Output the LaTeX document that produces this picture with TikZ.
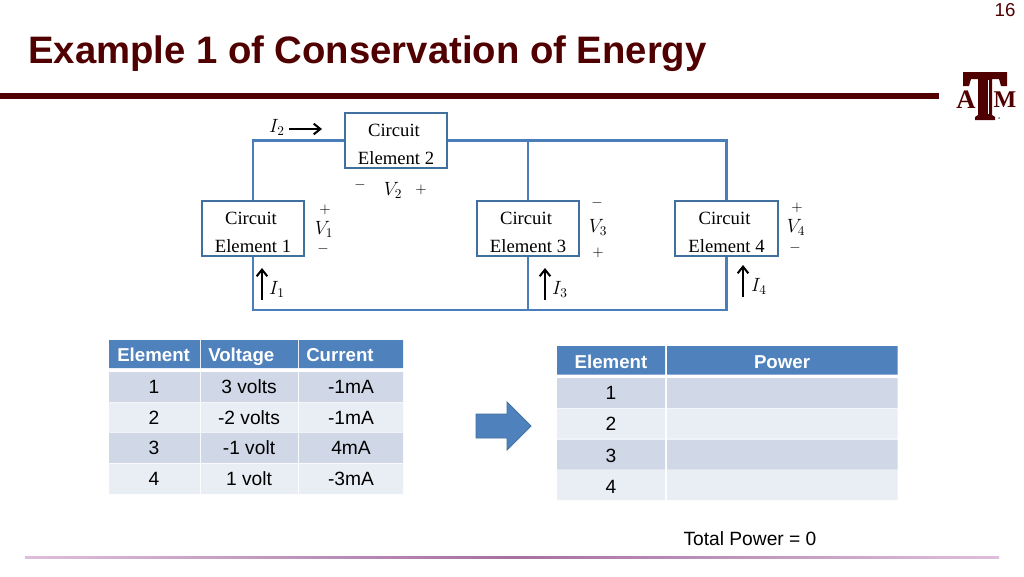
\documentclass[tikz,border=0pt]{standalone}
\usepackage{fontspec}
\setmainfont{Liberation Sans}
\newfontfamily\serifelem{Liberation Serif}
\usetikzlibrary{arrows.meta}
\definecolor{aggie}{HTML}{500000}
\definecolor{wire}{HTML}{4A7EBB}
\definecolor{boxedge}{HTML}{41709F}
\definecolor{headblue}{HTML}{4F81BD}
\definecolor{rowdark}{HTML}{D0D8E8}
\definecolor{rowlight}{HTML}{E9EDF4}
\definecolor{ruleedge}{HTML}{DDBFDD}
\definecolor{rulemid}{HTML}{A6709F}
\newcommand{\elemlabel}[1]{\rule{0pt}{14.5pt}Circuit\kern3pt\\Element #1}
\tikzset{
	element/.style={draw=boxedge,line width=1.7pt,minimum width=77pt,minimum height=41pt,inner sep=0pt,align=center,font=\fontsize{14}{21}\selectfont\serifelem,text=black},
	wireline/.style={draw=wire,line width=1.7pt},
	current/.style={-{Straight Barb[length=5pt,width=8pt]},black,line width=1.5pt},
	lab/.style={inner sep=0pt,font=\fontsize{14.4}{15}\selectfont},
	signlab/.style={inner sep=0pt,font=\fontsize{11}{11}\selectfont},
	cell/.style={inner sep=0pt,text height=10pt,text depth=0pt,font=\fontsize{14.4}{15}\selectfont,text=black},
	headcell/.style={inner sep=0pt,text height=10pt,text depth=0pt,font=\fontsize{14}{15}\selectfont\bfseries,text=white},
}
\begin{document}
\begin{tikzpicture}[x=0.75pt,y=-0.75pt]
	\useasboundingbox (0,0) rectangle (1024,576);
	\fill[white] (0,0) rectangle (1024,576);
	% title
	\node[anchor=west,inner sep=0pt,text=aggie,font=\fontsize{28.7}{32}\selectfont\bfseries] (title) at (28,54) {Example 1 of Conservation of Energy};
	\node[inner sep=0pt,text=aggie,font=\fontsize{14}{16}\selectfont] (pagenum) at (1005,10) {16};
	\fill[aggie] (0,93) rectangle (939,99);
	\shade[left color=ruleedge,right color=ruleedge,middle color=rulemid] (25,556) rectangle (999,558);
	% logo
	\fill[aggie] (963,72) -- (1007,72) -- (1007,86) -- (1001,86) -- (999,79) -- (992,79) -- (992,115) -- (995,117) -- (995,120) -- (975,120) -- (975,117) -- (978,115) -- (978,79) -- (971,79) -- (969,86) -- (963,86) -- cycle;
	\draw[white,line width=0.5pt] (988,80) -- (988,114);
	\fill[gray] (999,118) circle (1);
	\node[inner sep=0pt,text=aggie,font=\fontsize{20}{21}\selectfont\serifelem\bfseries] (logoa) at (966,100) {A};
	\node[inner sep=0pt,text=aggie,font=\fontsize{18}{21}\selectfont\serifelem\bfseries] (logom) at (1005,100) {M};
	% circuit
	\node[element] (elemtwo) at (396,140.5) {\elemlabel{2}};
	\node[element] (elemone) at (253,228.5) {\elemlabel{1}};
	\node[element] (elemthree) at (528,228.5) {\elemlabel{3}};
	\node[element] (elemfour) at (726.5,228.5) {\elemlabel{4}};
	\coordinate (bottomleft) at (253,310);
	\coordinate (bottomright) at (726.5,310);
	\coordinate (bottommid) at (528,310);
	\coordinate (topmid) at (528,141);
	\draw[wireline] (elemone.north) |- (elemtwo.west);
	\draw[wireline] (elemtwo.east) -| (elemfour.north);
	\draw[wireline] (elemthree.north) -- (topmid);
	\draw[wireline] (elemone.south) -- (bottomleft) -- (bottomright) -- (elemfour.south);
	\draw[wireline] (elemthree.south) -- (bottommid);
	% currents
	\node[lab] (itwo) at (277,127) {$I_2$};
	\coordinate (itwotail) at (289,129);
	\coordinate (itwohead) at (322,129);
	\draw[current] (itwotail) -- (itwohead);
	\node[lab] (ione) at (277,289) {$I_1$};
	\coordinate (ionetail) at (262,300);
	\coordinate (ionehead) at (262,268);
	\draw[current] (ionetail) -- (ionehead);
	\node[lab] (ithree) at (560,289) {$I_3$};
	\coordinate (ithreetail) at (545,300);
	\coordinate (ithreehead) at (545,268);
	\draw[current] (ithreetail) -- (ithreehead);
	\node[lab] (ifour) at (759,286) {$I_4$};
	\coordinate (ifourtail) at (743,297);
	\coordinate (ifourhead) at (743,265);
	\draw[current] (ifourtail) -- (ifourhead);
	% voltages
	\node[lab] (vtwo) at (393,190) {$V_2$};
	\node[signlab] (vtwominus) at (360,185) {$-$};
	\node[signlab] (vtwoplus) at (421,190) {$+$};
	\node[lab] (vone) at (324,229) {$V_1$};
	\node[signlab] (voneplus) at (325,210) {$+$};
	\node[signlab] (voneminus) at (323,249) {$-$};
	\node[lab] (vthree) at (598,227) {$V_3$};
	\node[signlab] (vthreeminus) at (597,203) {$-$};
	\node[signlab] (vthreeplus) at (598,253) {$+$};
	\node[lab] (vfour) at (796,227) {$V_4$};
	\node[signlab] (vfourplus) at (797,208) {$+$};
	\node[signlab] (vfourminus) at (795,248) {$-$};
	% left table
	\fill[headblue] (109,340) rectangle (200,368) (201,340) rectangle (298,368) (299,340) rectangle (403,368);
	\node[headcell,anchor=west] (hone) at (117,355) {Element};
	\node[headcell,anchor=west] (htwo) at (208,355) {Voltage};
	\node[headcell,anchor=west] (hthree) at (306,355) {Current};
	\foreach \rowtop/\rowcol/\idx/\volt/\amp in {372/rowdark/1/3 volts/-1mA,402.5/rowlight/2/-2 volts/-1mA,433/rowdark/3/-1 volt/4mA,464/rowlight/4/1 volt/-3mA}{
		\fill[\rowcol] (109,\rowtop) rectangle ++(91,30) (201,\rowtop) rectangle ++(97,30) (299,\rowtop) rectangle ++(104,30);
		\node[cell] (idx\idx) at (154,\rowtop+15) {\idx};
		\node[cell] (volt\idx) at (249,\rowtop+15) {\volt};
		\node[cell] (amp\idx) at (351,\rowtop+15) {\amp};
	}
	% block arrow
	\draw[fill=headblue,draw=boxedge,line width=0.6pt] (476,414) -- (507,414) -- (507,402) -- (531,426) -- (507,450) -- (507,438) -- (476,438) -- cycle;
	% right table
	\fill[headblue] (557,346) rectangle (665,374.5) (667,346) rectangle (897.5,374.5);
	\node[headcell] (helem) at (611,362) {Element};
	\node[headcell] (hpower) at (782,362) {Power};
	\foreach \rowtop/\rowcol/\idx/\texty in {378/rowdark/1/393,408.5/rowlight/2/424,439.5/rowdark/3/456,470/rowlight/4/487}{
		\fill[\rowcol] (557,\rowtop) rectangle ++(108,30) (667,\rowtop) rectangle ++(230.5,30);
		\node[cell] (pidx\idx) at (611,\texty) {\idx};
	}
	\node[cell] (total) at (750,539) {Total Power = 0};
\end{tikzpicture}
\end{document}
